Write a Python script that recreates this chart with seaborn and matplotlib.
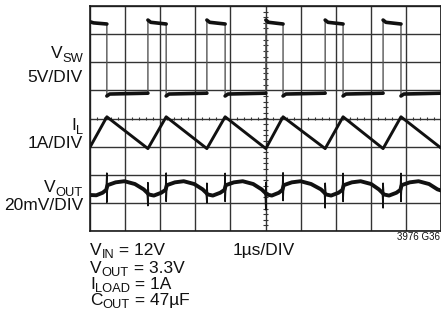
import numpy as np
import pandas as pd
import matplotlib
matplotlib.use("Agg")
import matplotlib.pyplot as plt
import seaborn as sns

# ---- data (time in µs = divisions, values in divisions) ----
vsw_t = [0.00, 0.10, 0.48, 0.48, 0.56, 1.65,
         1.65, 1.73, 2.17, 2.17, 2.25, 3.33,
         3.33, 3.41, 3.85, 3.85, 3.93, 5.01,
         5.01, 5.09, 5.50, 5.50, 5.58, 6.70,
         6.70, 6.78, 7.21, 7.21, 7.29, 8.35,
         8.35, 8.43, 8.86, 8.86, 8.94, 10.00]
vsw_v = [3.44, 3.40, 3.36, 0.80, 0.87, 0.90,
         3.50, 3.42, 3.36, 0.80, 0.87, 0.90,
         3.50, 3.42, 3.36, 0.80, 0.87, 0.90,
         3.50, 3.42, 3.36, 0.80, 0.87, 0.90,
         3.50, 3.42, 3.36, 0.80, 0.87, 0.90,
         3.50, 3.42, 3.36, 0.80, 0.87, 0.90]
vsw_seg = [0, 0, 0, 1, 1, 1, 2, 2, 2, 3, 3, 3, 4, 4, 4, 5, 5, 5,
           6, 6, 6, 7, 7, 7, 8, 8, 8, 9, 9, 9, 10, 10, 10, 11, 11, 11]

il_t = [0.00, 0.48, 1.65, 2.17, 3.33, 3.85, 5.01, 5.50, 6.70, 7.21, 8.35, 8.86, 10.00]
il_v = [-1.02, 0.06, -1.07, 0.06, -1.07, 0.06, -1.07, 0.06, -1.07, 0.06, -1.07, 0.06, -1.05]

vout_t = [0.00, 0.18, 0.36, 0.46, 0.48, 0.48, 0.50, 0.73, 0.98, 1.28, 1.53, 1.63,
          1.65, 1.65, 1.67, 1.82, 2.03, 2.15, 2.17, 2.17, 2.19, 2.42, 2.67, 2.97, 3.21, 3.31,
          3.33, 3.33, 3.35, 3.50, 3.71, 3.83, 3.85, 3.85, 3.87, 4.10, 4.35, 4.65, 4.89, 4.99,
          5.01, 5.01, 5.03, 5.18, 5.38, 5.48, 5.50, 5.50, 5.52, 5.75, 6.00, 6.30, 6.58, 6.68,
          6.70, 6.70, 6.72, 6.87, 7.08, 7.19, 7.21, 7.21, 7.23, 7.46, 7.71, 8.01, 8.23, 8.33,
          8.35, 8.35, 8.37, 8.52, 8.73, 8.84, 8.86, 8.86, 8.88, 9.11, 9.36, 9.66, 9.90, 10.00]
vout_v = [-2.72, -2.73, -2.64, -2.54, -1.94, -2.98, -2.37, -2.27, -2.23, -2.33, -2.52, -2.64,
          -3.10, -2.28, -2.70, -2.74, -2.64, -2.54, -1.94, -2.95, -2.37, -2.27, -2.23, -2.33, -2.52, -2.64,
          -3.00, -2.30, -2.70, -2.74, -2.64, -2.54, -1.95, -2.95, -2.37, -2.27, -2.23, -2.33, -2.52, -2.64,
          -3.25, -2.28, -2.70, -2.74, -2.64, -2.54, -1.93, -2.92, -2.37, -2.27, -2.23, -2.33, -2.52, -2.64,
          -3.18, -2.30, -2.70, -2.74, -2.64, -2.54, -1.95, -2.95, -2.37, -2.27, -2.23, -2.33, -2.52, -2.64,
          -3.18, -2.30, -2.70, -2.74, -2.64, -2.54, -1.95, -2.95, -2.37, -2.27, -2.23, -2.33, -2.52, -2.56]
# 1 = spike extreme of the V_OUT trace (switching-edge spikes)
vout_spike = [0, 0, 0, 0, 1, 1, 0, 0, 0, 0, 0, 0,
              1, 1, 0, 0, 0, 0, 1, 1, 0, 0, 0, 0, 0, 0,
              1, 1, 0, 0, 0, 0, 1, 1, 0, 0, 0, 0, 0, 0,
              1, 1, 0, 0, 0, 0, 1, 1, 0, 0, 0, 0, 0, 0,
              1, 1, 0, 0, 0, 0, 1, 1, 0, 0, 0, 0, 0, 0,
              1, 1, 0, 0, 0, 0, 1, 1, 0, 0, 0, 0, 0, 0]

# label runs: (main, subscript, rest)
left_labels = [(("V", "SW", ""), 58), (("5V/DIV", "", ""), 82),
               (("I", "L", ""), 130), (("1A/DIV", "", ""), 148),
               (("V", "OUT", ""), 192), (("20mV/DIV", "", ""), 210)]
cond_labels = [(("V", "IN", " = 12V"), 255), (("V", "OUT", " = 3.3V"), 273),
               (("I", "LOAD", " = 1A"), 289), (("C", "OUT", " = 47µF"), 305)]
time_label = "1µs/DIV"
fig_id = "3976 G36"

# ---- style ----
sns.set_theme(style="white")
plt.rcParams["font.family"] = ["Liberation Sans", "DejaVu Sans"]

W, H = 441, 326
fig = plt.figure(figsize=(W / 100, H / 100), dpi=100)
ax = fig.add_axes([90 / W, 1 - 231 / H, (W - 90) / W, 225 / H])
ax.set_xlim(0, 10)
ax.set_ylim(-4, 4)
ax.set_xticks(range(11))
ax.set_yticks(range(-4, 5))
ax.tick_params(length=0, labelbottom=False, labelleft=False)
ax.grid(True, color="#333333", linewidth=1.0)
for s in ax.spines.values():
    s.set_color("#1a1a1a")
    s.set_linewidth(1.2)

# center graticule tick marks
mt = np.arange(0, 10.01, 0.2)
ax.vlines(mt, -0.07, 0.07, color="#333333", linewidth=0.8)
mv = np.arange(-4, 4.01, 0.2)
ax.hlines(mv, 5 - 0.06, 5 + 0.06, color="#333333", linewidth=0.8)

ink = "#111111"
df_sw = pd.DataFrame({"t": vsw_t, "v": vsw_v, "seg": vsw_seg})
sns.lineplot(data=df_sw, x="t", y="v", sort=False, estimator=None,
             color="#555555", linewidth=1.0, ax=ax)
sns.lineplot(data=df_sw, x="t", y="v", units="seg", sort=False, estimator=None,
             color=ink, linewidth=2.6, ax=ax)

df_il = pd.DataFrame({"t": il_t, "v": il_v})
sns.lineplot(data=df_il, x="t", y="v", sort=False, estimator=None,
             color=ink, linewidth=2.1, ax=ax)

df_vo = pd.DataFrame({"t": vout_t, "v": vout_v, "spike": vout_spike})
sns.lineplot(data=df_vo, x="t", y="v", sort=False, estimator=None,
             color=ink, linewidth=1.1, ax=ax)
sns.lineplot(data=df_vo[df_vo["spike"] == 0], x="t", y="v", sort=False, estimator=None,
             color=ink, linewidth=2.8, ax=ax)

ax.set_xlabel("")
ax.set_ylabel("")

renderer = fig.canvas.get_renderer()
TXT = "#111111"


def draw_runs(x_px, yb_px, parts, size, ha="left", sub_scale=0.74, sub_drop=3.5):
    main, sub, rest = parts
    specs = [(main, size, 0.0), (sub, size * sub_scale, sub_drop), (rest, size, 0.0)]
    texts = []
    widths = []
    for s, fs, dy in specs:
        if not s:
            continue
        t = fig.text(0, 0, s, fontsize=fs, color=TXT, ha="left", va="baseline")
        w = t.get_window_extent(renderer).width
        texts.append((t, dy))
        widths.append(w)
    total = sum(widths)
    x0 = x_px - total if ha == "right" else x_px
    for (t, dy), w in zip(texts, widths):
        t.set_position((x0 / W, 1 - (yb_px + dy) / H))
        x0 += w


for parts, yb in left_labels:
    draw_runs(83, yb, parts, 12.5, ha="right", sub_drop=4.5)
for parts, yb in cond_labels:
    draw_runs(90, yb, parts, 12.5, ha="left", sub_drop=3.0)
fig.text(233 / W, 1 - 255 / H, time_label, ha="left", va="baseline", fontsize=12.5, color=TXT)
fig.text(397 / W, 1 - 240.5 / H, fig_id, ha="left", va="baseline", fontsize=7.0, color=TXT)

fig.savefig("out.png", dpi=100)
